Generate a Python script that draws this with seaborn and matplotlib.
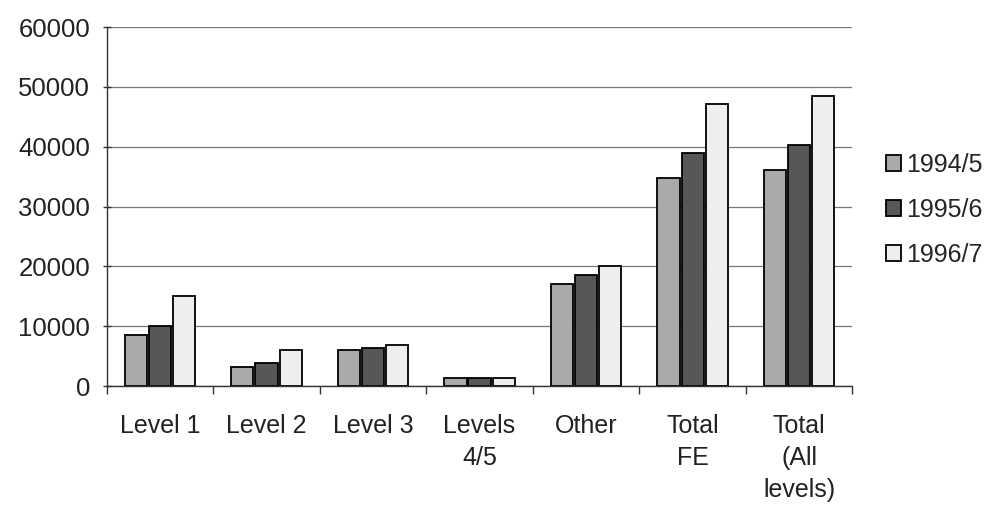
import matplotlib
matplotlib.use("Agg")
import matplotlib.pyplot as plt
import seaborn as sns
import pandas as pd
import numpy as np

categories = ["Level 1", "Level 2", "Level 3", "Levels\n4/5", "Other", "Total\nFE", "Total\n(All\nlevels)"]
series_names = ["1994/5", "1995/6", "1996/7"]
v1994 = [8600, 3250, 6100, 1400, 17100, 34700, 36100]
v1995 = [10000, 3800, 6400, 1400, 18600, 39000, 40300]
v1996 = [15100, 6100, 6800, 1400, 20000, 47100, 48500]
yticks = [0, 10000, 20000, 30000, 40000, 50000, 60000]
colors = ["#aaaaaa", "#575757", "#eeeeee"]

rows = []
for name, vals in zip(series_names, [v1994, v1995, v1996]):
    for c, v in zip(categories, vals):
        rows.append({"cat": c, "year": name, "value": v})
df = pd.DataFrame(rows)

sns.set_theme(style="white")
plt.rcParams['font.family'] = ['Liberation Sans', 'DejaVu Sans']

fig = plt.figure(figsize=(9.97, 5.12), dpi=100)
ax = fig.add_axes([0.107, 0.246, 0.748, 0.701])

sns.barplot(data=df, x="cat", y="value", hue="year", order=categories,
            hue_order=series_names, palette=colors, edgecolor="black",
            linewidth=1.3, width=0.68, gap=0.08, ax=ax, legend=True)

ax.set_ylim(0, 60000)
ax.set_xlim(-0.5, len(categories) - 0.5)
ax.set_yticks(yticks)
ax.set_yticklabels([str(t) for t in yticks], fontsize=18.5, color="#222222")
ax.yaxis.grid(True, color="#777777", linewidth=0.9)
ax.set_axisbelow(True)
ax.set_xlabel("")
ax.set_ylabel("")

ax.set_xticks(np.arange(len(categories)))
ax.set_xticklabels(categories, fontsize=18, color="#222222", linespacing=1.43, va="top")
ax.tick_params(axis="x", which="major", length=0, pad=20)
ax.set_xticks(np.arange(len(categories) + 1) - 0.5, minor=True)
ax.tick_params(axis="x", which="minor", length=6, width=1, color="#333333", direction="out", bottom=True)
ax.tick_params(axis="y", length=6, width=1, color="#333333", direction="inout", left=True, pad=9)

for s in ["top", "right"]:
    ax.spines[s].set_visible(False)
for s in ["left", "bottom"]:
    ax.spines[s].set_color("#333333")
    ax.spines[s].set_linewidth(1.0)

handles, labels = ax.get_legend_handles_labels()
ax.legend(handles, labels, loc="center left", bbox_to_anchor=(0.889, 0.59),
          bbox_transform=fig.transFigure, frameon=False, fontsize=18,
          handlelength=0.6, handleheight=0.6, handletextpad=0.2, labelspacing=0.85,
          borderaxespad=0, borderpad=0)

fig.savefig("out.png", dpi=100)
